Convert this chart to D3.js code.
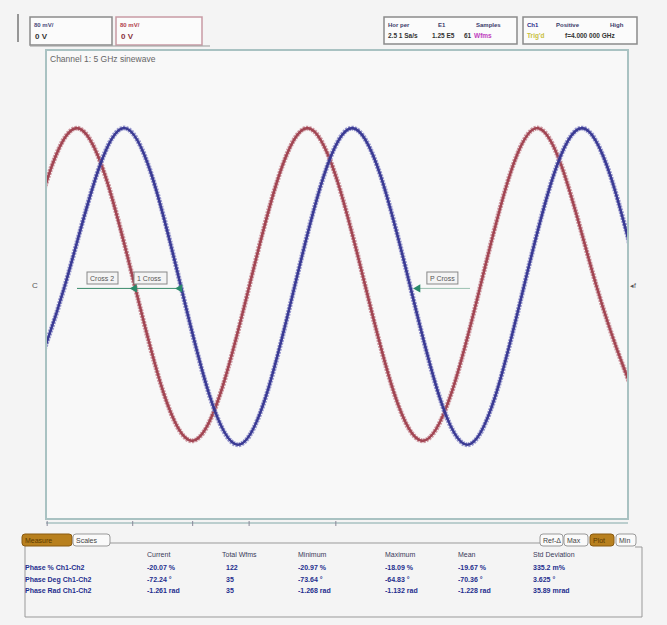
<!DOCTYPE html>
<html>
<head>
<meta charset="utf-8">
<script src="https://cdn.jsdelivr.net/npm/d3@7"></script>
<style>
  body { margin: 0; background: #f4f4f4; }
  svg { display: block; font-family: "Liberation Sans", Arial, sans-serif; }
</style>
</head>
<body>
<svg width="667" height="625"></svg>
<script>
// waveform points: [time in divisions, level in mV]
var ch1Points = [[-0.46, 0], [0.53, 200], [1.52, 0], [2.51, -200], [3.50, 0], [4.49, 200], [5.48, 0], [6.47, -200], [7.47, 0], [8.46, 200], [9.45, 0], [10.44, -200]];
var ch2Points = [[-0.66, -200], [0.33, 0], [1.32, 200], [2.31, 0], [3.30, -205], [4.28, 0], [5.26, 200], [6.25, 0], [7.24, -205], [8.22, 0], [9.21, 200], [10.2, 0]];
var rulerTicks = [0.02, 1.49, 2.52, 3.49, 4.98];
var cursorMarks = [{label: "Cross 2", at: 1.52}, {label: "1 Cross", at: 2.30}, {label: "P Cross", at: 6.39}];

var tableHeaders = ["Current", "Total Wfms", "Minimum", "Maximum", "Mean", "Std Deviation"];
var rowLabels = ["Phase % Ch1-Ch2", "Phase Deg Ch1-Ch2", "Phase Rad Ch1-Ch2"];
var rowValues = [
  ["-20.07 %", "122", "-20.97 %", "-18.09 %", "-19.67 %", "335.2 m%"],
  ["-72.24 \u00b0", "35", "-73.64 \u00b0", "-64.83 \u00b0", "-70.36 \u00b0", "3.625 \u00b0"],
  ["-1.261 rad", "35", "-1.268 rad", "-1.132 rad", "-1.228 rad", "35.89 mrad"]
];

var svg = d3.select("svg");
var x = d3.scaleLinear().domain([0, 10]).range([46, 628]);
var y = d3.scaleLinear().domain([-300, 300]).range([519, 50]);

svg.append("rect").attr("width", 667).attr("height", 625).attr("fill", "#f4f4f4");
svg.append("line").attr("x1", 18).attr("x2", 18).attr("y1", 14).attr("y2", 42).attr("stroke", "#777").attr("stroke-width", 1.5);

// readout boxes along the top
function box(x0, y0, w, h, stroke) {
  svg.append("rect").attr("x", x0).attr("y", y0).attr("width", w).attr("height", h)
    .attr("fill", "#fbfbfb").attr("stroke", stroke).attr("stroke-width", 1.5);
}
function label(tx, ty, s, col, size, weight) {
  return svg.append("text").attr("x", tx).attr("y", ty).text(s).attr("fill", col)
    .style("font-size", size || "7px").style("font-weight", weight || "bold");
}
box(30, 17, 82, 28, "#8a8a8a");
label(34, 27, "80 mV/", "#4a4a7a", "6px");
label(35, 39, "0 V", "#333", "8px");
box(116, 17, 86, 28, "#c89aa4");
label(120, 27, "80 mV/", "#b0404c", "6px");
label(121, 39, "0 V", "#8a3040", "8px");

box(384, 17, 133, 27, "#8a8a8a");
label(388, 27, "Hor per", "#3a3a6a", "6px");
label(438, 27, "E1", "#3a3a6a", "6px");
label(476, 27, "Samples", "#3a3a6a", "6px");
label(388, 38, "2.5 1 Sa/s", "#333", "6.5px");
label(432, 38, "1.25 E5", "#333", "6.5px");
label(464, 38, "61", "#333", "6.5px");
label(474, 38, "Wfms", "#c040c0", "6.5px");
box(523, 17, 114, 27, "#8a8a8a");
label(527, 27, "Ch1", "#2a2a8a", "6px");
label(556, 27, "Positive", "#3a3a6a", "6px");
label(610, 27, "High", "#3a3a6a", "6px");
label(527, 38, "Trig'd", "#c8c040", "6.5px");
label(565, 38, "f=4.000 000 GHz", "#333", "6.5px");

// graticule frame
svg.append("line").attr("x1", 30).attr("x2", 210).attr("y1", 46).attr("y2", 46).attr("stroke", "#999").attr("stroke-width", 1);
svg.append("rect").attr("x", x(0)).attr("y", y(300)).attr("width", x(10) - x(0)).attr("height", y(-300) - y(300))
  .attr("fill", "#f8f8f8").attr("stroke", "#a9c2c2").attr("stroke-width", 2);
label(50, 62, "Channel 1: 5 GHz sinewave", "#666", "8.5px", "normal");

// bottom ruler
svg.append("line").attr("x1", x(0)).attr("x2", x(10)).attr("y1", 523).attr("y2", 523).attr("stroke", "#a9c2c2").attr("stroke-width", 1.5);
svg.append("g").selectAll("line").data(rulerTicks).join("line")
  .attr("x1", d => x(d)).attr("x2", d => x(d)).attr("y1", 521).attr("y2", 526)
  .attr("stroke", "#889").attr("stroke-width", 1);

// traces: a pale noisy band with a darker core
var line = d3.line().x(d => x(d[0])).y(d => y(d[1])).curve(d3.curveNatural);
svg.append("clipPath").attr("id", "plotclip").append("rect")
  .attr("x", x(0) + 1).attr("y", y(300) + 1).attr("width", x(10) - x(0) - 2).attr("height", y(-300) - y(300) - 2);
var traces = svg.append("g").attr("clip-path", "url(#plotclip)");
[[ch1Points, "#c07a86", "#9e3f4d"], [ch2Points, "#7a7ac0", "#34348f"]].forEach(function(t) {
  traces.append("path").datum(t[0]).attr("d", line).attr("fill", "none")
    .attr("stroke", t[1]).attr("stroke-width", 5).attr("stroke-opacity", 0.75)
    .attr("stroke-dasharray", "2 1");
  traces.append("path").datum(t[0]).attr("d", line).attr("fill", "none")
    .attr("stroke", t[2]).attr("stroke-width", 2.6).attr("stroke-opacity", 0.95);
});

// level markers and cursor labels
label(32, 288, "C", "#555", "8px", "normal");
label(630, 288, "\u25c2f", "#555", "7px", "normal");
var markY = y(-5);
svg.append("line").attr("x1", 77).attr("x2", x(2.30)).attr("y1", markY).attr("y2", markY).attr("stroke", "#3a8a6a").attr("stroke-width", 1);
svg.append("line").attr("x1", x(6.39)).attr("x2", 470).attr("y1", markY).attr("y2", markY).attr("stroke", "#9ac0b0").attr("stroke-width", 1);
cursorMarks.forEach(function(m, i) {
  var bx = i == 0 ? 87 : (i == 1 ? 134 : x(m.at) + 9);
  svg.append("rect").attr("x", bx).attr("y", 272).attr("width", i == 1 ? 33 : 31).attr("height", 12)
    .attr("fill", "#f4f4f4").attr("stroke", "#888").attr("stroke-width", 1);
  label(bx + 3, 281, m.label, "#555", "7px", "normal");
  svg.append("path").attr("d", d3.symbol().type(d3.symbolTriangle).size(30)())
    .attr("transform", "translate(" + x(m.at) + "," + markY + ") rotate(-90)").attr("fill", "#2a8a6a");
});

// measurement panel
svg.append("path").attr("d", "M110,543 H540 M635,547 H642 V617 H25 V546")
  .attr("fill", "none").attr("stroke", "#999").attr("stroke-width", 1);
function tab(tx, w, s, on) {
  svg.append("rect").attr("x", tx).attr("y", 534).attr("width", w).attr("height", 12).attr("rx", 3)
    .attr("fill", on ? "#b8801e" : "#fafafa").attr("stroke", on ? "#8a5a10" : "#999").attr("stroke-width", 1);
  label(tx + 3, 543, s, on ? "#5a3a00" : "#444", "7px", "normal");
}
tab(22, 50, "Measure", true);
tab(73, 37, "Scales", false);
tab(540, 23, "Ref-\u0394", false);
tab(564, 24, "Max", false);
tab(590, 24, "Plot", true);
tab(616, 20, "Min", false);

var colX = [147, 222, 298, 385, 458, 533];
tableHeaders.forEach(function(h, i) { label(colX[i], 557, h, "#3a3a5a", "7px", "normal"); });
rowLabels.forEach(function(r, j) {
  label(25, 570 + j * 11.5, r, "#1e2e8e", "7px");
  rowValues[j].forEach(function(v, i) { label(colX[i] + (i == 1 ? 4 : 0), 570 + j * 11.5, v, "#1e2e8e", "7px"); });
});
</script>
</body>
</html>
